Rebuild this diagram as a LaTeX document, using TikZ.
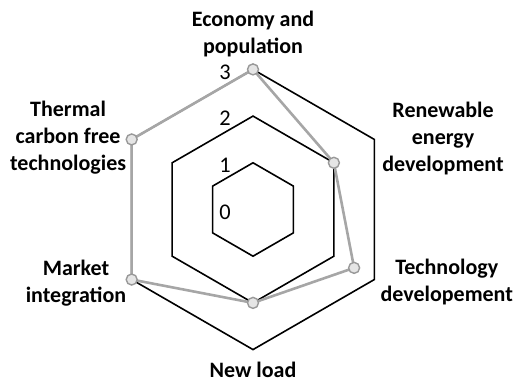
\documentclass[tikz,border=0pt]{standalone}
\usepackage{fontspec}
\setmainfont{Carlito}
\usetikzlibrary{positioning}

\begin{document}
\begin{tikzpicture}[x=23.35pt,y=23.35pt,
    ring/.style={black,line width=0.8pt,line join=miter},
    series/.style={black!35,line width=1.3pt,line join=round},
    dot/.style={circle,draw=black!40,fill=black!10,line width=0.7pt,inner sep=0pt,minimum size=5.5pt},
    axis/.style={align=center,font=\fontsize{11}{13.5}\selectfont\bfseries},
    level/.style={font=\fontsize{11.2}{13.5}\selectfont}]
    \useasboundingbox (-5.418,-3.672) rectangle (5.632,4.486);

    % grid
    \foreach \r in {1,2,3}
      \draw[ring] (90:\r) -- (30:\r) -- (-30:\r) -- (-90:\r) -- (-150:\r) -- (150:\r) -- cycle;

    \node[level] (L0) at (-0.6,-0.05) {0};
    \node[level] (L1) at (-0.6,0.95) {1};
    \node[level] (L2) at (-0.6,1.96) {2};
    \node[level] (L3) at (-0.6,2.94) {3};

    % scores
    \coordinate (ECO) at (90:3);
    \coordinate (REN) at (30:2);
    \coordinate (TEC) at (-30:2.5);
    \coordinate (NEW) at (-90:2);
    \coordinate (MKT) at (-150:3);
    \coordinate (THE) at (150:3);

    \draw[series] (ECO) -- (REN) -- (TEC) -- (NEW) -- (MKT) -- (THE) -- cycle;
    \foreach \p in {ECO,REN,TEC,NEW,MKT,THE}
      \node[dot] (\p dot) at (\p) {};

    % axes
    \node[axis] (ECOlab) at (0,3.76) {Economy and\\population};
    \node[axis] (RENlab) at (4.07,1.53) {Renewable\\energy\\development};
    \node[axis] (TEClab) at (4.15,-1.55) {Technology\\developement};
    \node[axis] (NEWlab) at (0,-3.44) {New load};
    \node[axis] (MKTlab) at (-3.79,-1.57) {Market\\integration};
    \node[axis] (THElab) at (-3.96,1.53) {Thermal\\carbon free\\technologies};
  \end{tikzpicture}
\end{document}
